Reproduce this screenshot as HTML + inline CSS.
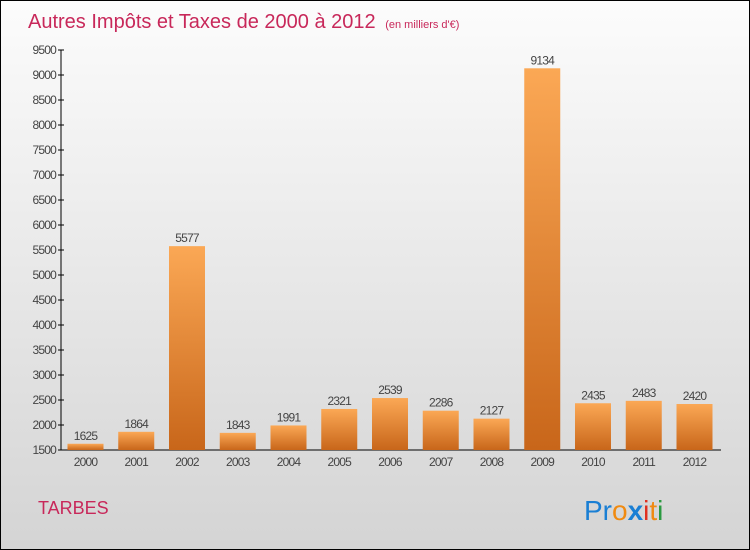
<!DOCTYPE html>
<html><head><meta charset="utf-8"><style>
body{margin:0;}
#c{width:748px;height:548px;border:1px solid #000;background:linear-gradient(#fcfcfc,#f0f0f0 30%,#d4d4d4);position:relative;font-family:"Liberation Sans",sans-serif;overflow:hidden}
</style></head><body>
<div id="c">
<svg width="748" height="548" id="svg">
<defs><linearGradient id="g" x1="0" y1="0" x2="0" y2="1"><stop offset="0" stop-color="#fba855"/><stop offset="1" stop-color="#c8661a"/></linearGradient></defs>
<text x="27" y="27" font-size="20" fill="#c8285a">Autres Impôts et Taxes de 2000 à 2012 <tspan font-size="11" dx="4">(en milliers d'€)</tspan></text>
<text x="37" y="513" font-size="18" fill="#c8285a">TARBES</text>
<text x="583" y="519" font-size="28"><tspan fill="#1a7fd4">Pr</tspan><tspan fill="#f08a10">o</tspan><tspan fill="#1a7fd4" font-weight="bold">x</tspan><tspan fill="#e03020">i</tspan><tspan fill="#f08a10">t</tspan><tspan fill="#2a9a40">i</tspan></text>
<g id="plot"></g>
</svg></div>
<script>
const categories=["2000","2001","2002","2003","2004","2005","2006","2007","2008","2009","2010","2011","2012"];
const values=[1625,1864,5577,1843,1991,2321,2539,2286,2127,9134,2435,2483,2420];
const ticks=[1500,2000,2500,3000,3500,4000,4500,5000,5500,6000,6500,7000,7500,8000,8500,9000,9500];
const NS="http://www.w3.org/2000/svg";
const g=document.getElementById('plot');
const y=v=>449-(v-1500)*0.05;
const x=i=>84.5+i*50.75;
function mk(t,a,p){const e=document.createElementNS(NS,t);for(const k in a)e.setAttribute(k,a[k]);(p||g).appendChild(e);return e;}
let ax=mk('line',{x1:60,y1:49,x2:60,y2:449,stroke:'#000'});


let bx=mk('line',{x1:60,y1:449,x2:720,y2:449,stroke:'#000'});


ticks.forEach(t=>{
 mk('line',{x1:57,x2:63,y1:y(t),y2:y(t),stroke:'#000'});
 const tx=mk('text',{x:55,y:y(t)+4,'text-anchor':'end','font-size':12,fill:'#444','letter-spacing':'-0.8'});
 tx.textContent=t;
 
 
});
categories.forEach((c,i)=>{
 const r=mk('rect',{x:x(i)-18,y:y(values[i]),width:36,height:449-y(values[i]),fill:'url(#g)'});
 
 
 const v=mk('text',{x:x(i),y:y(values[i])-4,'text-anchor':'middle','font-size':12,fill:'#444','letter-spacing':'-0.8'});
 v.textContent=values[i];
 
 
 const l=mk('text',{x:x(i),y:465,'text-anchor':'middle','font-size':12,fill:'#444','letter-spacing':'-0.8'});
 l.textContent=c;
 
 
});
</script>
</body></html>
